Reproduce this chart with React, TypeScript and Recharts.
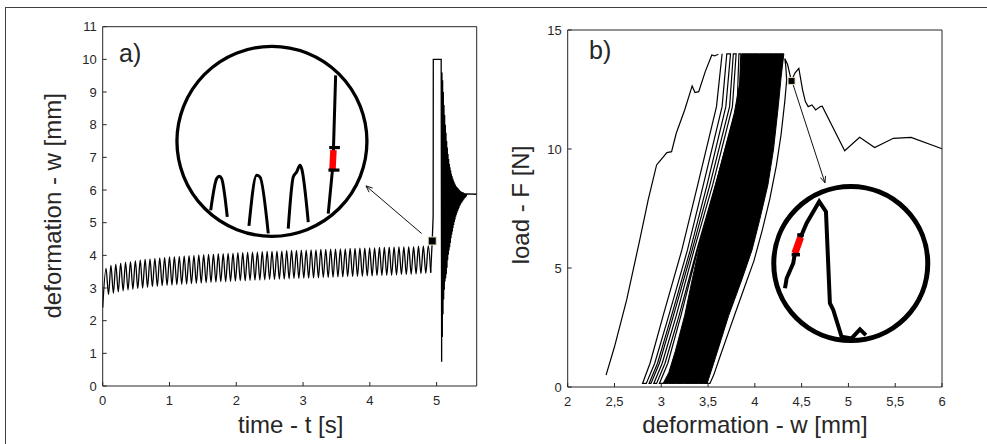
import React from 'react';
import { ComposedChart, Line, Area, XAxis, YAxis, ReferenceDot, ReferenceLine } from 'recharts';

const FONT = '"Liberation Sans", Arial, Helvetica, sans-serif';
const AX = '#262626';

// ---------- panel a) : deformation vs time ----------
const timeTicks = [0, 1, 2, 3, 4, 5];
const deformTicksA = [0, 1, 2, 3, 4, 5, 6, 7, 8, 9, 10, 11];
const startTime = 0;
const startDeform = 2.4;
const peakTimes = [0.050, 0.123, 0.196, 0.269, 0.342, 0.416, 0.489, 0.562, 0.635, 0.708, 0.781, 0.854, 0.927, 1.000, 1.073, 1.147, 1.220, 1.293, 1.366, 1.439, 1.512, 1.585, 1.658, 1.731, 1.804, 1.878, 1.951, 2.024, 2.097, 2.170, 2.243, 2.316, 2.389, 2.462, 2.535, 2.609, 2.682, 2.755, 2.828, 2.901, 2.974, 3.047, 3.120, 3.193, 3.266, 3.340, 3.413, 3.486, 3.559, 3.632, 3.705, 3.778, 3.851, 3.924, 3.997, 4.071, 4.144, 4.217, 4.290, 4.363, 4.436, 4.509, 4.582, 4.655, 4.728, 4.801, 4.875];
const peakDeform = [3.60, 3.70, 3.73, 3.76, 3.79, 3.81, 3.84, 3.86, 3.88, 3.89, 3.91, 3.92, 3.94, 3.95, 3.96, 3.97, 3.98, 3.99, 4.00, 4.01, 4.02, 4.03, 4.04, 4.05, 4.05, 4.06, 4.07, 4.08, 4.08, 4.09, 4.10, 4.10, 4.11, 4.12, 4.12, 4.13, 4.13, 4.14, 4.15, 4.15, 4.16, 4.16, 4.17, 4.17, 4.18, 4.18, 4.19, 4.19, 4.20, 4.20, 4.21, 4.21, 4.22, 4.22, 4.23, 4.23, 4.24, 4.24, 4.25, 4.25, 4.26, 4.26, 4.27, 4.27, 4.28, 4.29, 4.30];
const troughTimes = [0.087, 0.160, 0.233, 0.306, 0.379, 0.452, 0.525, 0.598, 0.671, 0.744, 0.818, 0.891, 0.964, 1.037, 1.110, 1.183, 1.256, 1.329, 1.402, 1.475, 1.549, 1.622, 1.695, 1.768, 1.841, 1.914, 1.987, 2.060, 2.133, 2.206, 2.280, 2.353, 2.426, 2.499, 2.572, 2.645, 2.718, 2.791, 2.864, 2.937, 3.011, 3.084, 3.157, 3.230, 3.303, 3.376, 3.449, 3.522, 3.595, 3.668, 3.742, 3.815, 3.888, 3.961, 4.034, 4.107, 4.180, 4.253, 4.326, 4.399, 4.473, 4.546, 4.619, 4.692, 4.765, 4.838, 4.911];
const troughDeform = [2.80, 2.84, 2.88, 2.91, 2.94, 2.96, 2.98, 3.00, 3.02, 3.04, 3.05, 3.07, 3.08, 3.09, 3.10, 3.11, 3.12, 3.13, 3.14, 3.15, 3.16, 3.17, 3.18, 3.19, 3.19, 3.20, 3.21, 3.22, 3.22, 3.23, 3.24, 3.24, 3.25, 3.26, 3.26, 3.27, 3.27, 3.28, 3.29, 3.29, 3.30, 3.30, 3.31, 3.31, 3.32, 3.32, 3.33, 3.34, 3.34, 3.35, 3.35, 3.36, 3.36, 3.37, 3.37, 3.38, 3.38, 3.39, 3.39, 3.40, 3.41, 3.41, 3.42, 3.43, 3.44, 3.45, 3.47];
const failureTimes = [4.911, 4.934, 4.948, 4.950, 5.068, 5.075, 5.080, 5.085, 5.090, 5.095, 5.100, 5.105, 5.110, 5.115, 5.120, 5.125, 5.130, 5.135, 5.140, 5.145, 5.150, 5.155, 5.160, 5.165, 5.170, 5.175, 5.180, 5.185, 5.190, 5.195, 5.200, 5.205, 5.210, 5.215, 5.220, 5.225, 5.230, 5.235, 5.240, 5.245, 5.250, 5.255, 5.260, 5.265, 5.270, 5.275, 5.280, 5.285, 5.290, 5.295, 5.300, 5.305, 5.310, 5.315, 5.320, 5.325, 5.330, 5.335, 5.340, 5.345, 5.350, 5.355, 5.360, 5.365, 5.370, 5.375, 5.380, 5.385, 5.390, 5.395, 5.400, 5.405, 5.410, 5.415, 5.420, 5.425, 5.430, 5.435, 5.440, 5.445, 5.450, 5.600];
const failureDeform = [3.47, 4.44, 5.20, 10.00, 10.00, 0.74, 9.60, 1.50, 9.36, 2.20, 9.00, 2.65, 8.60, 2.95, 8.30, 3.20, 8.00, 3.30, 7.75, 3.42, 7.50, 3.62, 7.30, 3.85, 7.10, 4.02, 6.95, 4.15, 6.80, 4.25, 6.70, 4.38, 6.60, 4.52, 6.50, 4.63, 6.43, 4.73, 6.36, 4.84, 6.30, 4.93, 6.25, 5.02, 6.20, 5.10, 6.16, 5.18, 6.12, 5.24, 6.09, 5.30, 6.07, 5.36, 6.05, 5.41, 6.02, 5.46, 6.00, 5.51, 5.98, 5.55, 5.96, 5.59, 5.95, 5.62, 5.94, 5.65, 5.93, 5.68, 5.92, 5.71, 5.91, 5.74, 5.90, 5.76, 5.90, 5.79, 5.89, 5.81, 5.88, 5.87];

// inset a) (magnifier content, drawn in the panel's own units)
const insetCircleA = { t: 2.534, w: 7.49 };
const insetArchesA = [
  { t: [1.617, 1.707, 1.746, 1.781, 1.865], w: [5.38, 6.35, 6.42, 6.35, 5.18] },
  { t: [2.190, 2.305, 2.355, 2.479], w: [4.90, 6.45, 6.40, 4.67] },
  { t: [2.778, 2.853, 2.904, 2.954, 2.979, 3.078], w: [4.82, 6.40, 6.55, 6.76, 6.66, 5.02] },
  { t: [3.377, 3.440, 3.455, 3.488], w: [5.28, 6.61, 7.25, 9.51] },
];
const redSegA = { t: [3.440, 3.455], w: [6.61, 7.22] };
const capsA = [
  { t: [3.392, 3.552], w: [7.30, 7.30] },
  { t: [3.380, 3.545], w: [6.61, 6.61] },
];
const markerA = { t: 4.934, w: 4.44 };
const arrowA = [{ x: 4.775, y: 4.67 }, { x: 3.942, y: 6.125 }];

// ---------- panel b) : load vs deformation ----------
const deformTicksB = [2, 2.5, 3, 3.5, 4, 4.5, 5, 5.5, 6];
const loadTicks = [0, 5, 10, 15];
const firstLoadW = [2.41, 2.50, 2.63, 2.77, 2.86, 2.95, 2.98, 3.06, 3.11, 3.16, 3.25, 3.33, 3.36, 3.40, 3.47, 3.54, 3.57, 3.61];
const firstLoadF = [0.50, 1.69, 3.66, 6.18, 7.86, 9.33, 9.47, 9.85, 9.89, 10.66, 11.64, 12.65, 12.37, 12.41, 13.25, 13.95, 13.91, 13.98];
const earlyCycleW = [
  3.65, 3.59, 3.39, 3.22, 3.02, 2.88, 2.80,
  2.84, 2.93, 3.08, 3.28, 3.45, 3.65, 3.70,
  3.74, 3.69, 3.49, 3.31, 3.11, 2.96, 2.87,
  2.89, 2.98, 3.13, 3.33, 3.52, 3.73, 3.77,
  3.80, 3.76, 3.55, 3.35, 3.16, 3.01, 2.92,
  2.95, 3.04, 3.19, 3.38, 3.58, 3.81, 3.83,
  3.85, 3.83, 3.60, 3.39, 3.21, 3.07, 2.98,
  3.02];
const earlyCycleF = [
  14, 11.78, 8.5, 5.76, 3, 1, 0.15,
  0.15, 1, 3, 5.76, 8.5, 11.78, 14,
  14, 11.78, 8.5, 5.76, 3, 1, 0.15,
  0.15, 1, 3, 5.76, 8.5, 11.78, 14,
  14, 11.78, 8.5, 5.76, 3, 1, 0.15,
  0.15, 1, 3, 5.76, 8.5, 11.78, 14,
  14, 11.78, 8.5, 5.76, 3, 1, 0.15,
  0.15];
const bandW = [3.02, 3.08, 3.15, 3.25, 3.33, 3.40, 3.48, 3.49, 3.56, 3.58, 3.64, 3.68, 3.72, 3.78, 3.84, 3.86, 3.97, 4.05, 4.14, 4.20, 4.25, 4.28, 4.31];
const bandLow = [0.15, 0.15, 0.15, 0.15, 0.15, 0.15, 0.15, 0.15, 1.0, 1.25, 2.0, 2.5, 3.0, 3.64, 4.29, 4.5, 5.76, 7.0, 8.5, 10.0, 11.78, 13.0, 14.0];
const bandHigh = [0.15, 0.6, 1.5, 3.0, 4.5, 5.76, 7.0, 7.15, 8.2, 8.5, 9.4, 10.0, 10.6, 11.5, 12.8, 14, 14, 14, 14, 14, 14, 14, 14];
const finalW = [3.47, 3.52, 3.56, 3.63, 3.71, 3.79, 3.89, 3.99, 4.08, 4.16, 4.23, 4.28, 4.32, 4.34, 4.33, 4.32, 4.35, 4.39, 4.43, 4.47, 4.51, 4.54, 4.57, 4.61, 4.65, 4.70, 4.72, 4.96, 5.12, 5.28, 5.48, 5.67, 6.00];
const finalF = [0.15, 0.15, 0.5, 1.3, 2.2, 3.1, 4.2, 5.3, 6.6, 7.9, 9.3, 10.6, 12.0, 12.9, 13.5, 13.8, 13.55, 12.86, 13.2, 13.39, 12.48, 11.99, 11.78, 11.85, 11.64, 11.78, 11.8, 9.93, 10.49, 10.06, 10.45, 10.49, 10.01];

// inset b)
const insetCircleB = { w: 5.025, F: 5.19 };
const insetW = [4.322, 4.340, 4.410, 4.428, 4.489, 4.553, 4.688, 4.760, 4.802, 4.838, 4.927, 5.034, 5.123, 5.187];
const insetF = [4.15, 4.57, 5.20, 5.62, 6.29, 6.88, 7.79, 7.37, 3.52, 3.24, 2.11, 2.04, 2.42, 2.18];
const redSegB = { w: [4.428, 4.489], F: [5.62, 6.29] };
const capsB = [
  { w: [4.453, 4.525], F: [6.39, 6.39] },
  { w: [4.393, 4.482], F: [5.56, 5.56] },
];
const markerB = { w: 4.392, F: 12.86 };
const arrowB = [{ x: 4.41, y: 12.69 }, { x: 4.749, y: 8.58 }];

// ---------- helpers ----------
const zip = (xs: number[], ys: number[], xk: string, yk: string) =>
  xs.map((x, i) => ({ [xk]: x, [yk]: ys[i] }));

const cyclicRows: any[] = [{ t: startTime, w: startDeform }];
peakTimes.forEach((t, i) => {
  cyclicRows.push({ t, w: peakDeform[i] });
  cyclicRows.push({ t: troughTimes[i], w: troughDeform[i] });
});
const failureRows = zip(failureTimes, failureDeform, 't', 'w');
const bandRows = bandW.map((w, i) => ({ w, band: [bandLow[i], bandHigh[i]] }));

const arrowShape = (props: any) => {
  const { x1, y1, x2, y2 } = props;
  const ang = Math.atan2(y2 - y1, x2 - x1);
  const L = 7;
  const a1 = ang + Math.PI - 0.4;
  const a2 = ang + Math.PI + 0.4;
  return (
    <g>
      <line x1={x1} y1={y1} x2={x2} y2={y2} stroke="#111" strokeWidth={1} />
      <polyline
        points={`${x2 + L * Math.cos(a1)},${y2 + L * Math.sin(a1)} ${x2},${y2} ${x2 + L * Math.cos(a2)},${y2 + L * Math.sin(a2)}`}
        fill="none"
        stroke="#111"
        strokeWidth={1}
      />
    </g>
  );
};

const squareShape = (size: number) => (props: any) => {
  const { cx, cy } = props;
  return <rect x={cx - size / 2} y={cy - size / 2} width={size} height={size} fill="#000" stroke="#e6dfbd" strokeWidth={1} />;
};

const tickStyle = { fontSize: 13, fill: AX, fontFamily: FONT };
const lineCommon = { dot: false, activeDot: false, isAnimationActive: false, legendType: 'none' as const };

export default function App() {
  return (
    <div style={{ position: 'absolute', left: 0, top: 0, width: 987, height: 444, background: '#fff', overflow: 'hidden' }}>
      <div style={{ position: 'absolute', left: 5, top: 7, width: 982, height: 437, borderTop: '1px solid #404040', borderLeft: '1px solid #404040', boxSizing: 'border-box' }} />

      {/* panel a */}
      <div style={{ position: 'absolute', left: 0, top: 0 }}>
        <ComposedChart width={500} height={444} margin={{ top: 25.7, right: 22.3, bottom: 38, left: 0 }}>
          <XAxis xAxisId="b" dataKey="t" type="number" domain={[0, 5.6]} ticks={timeTicks} interval={0} height={20}
            tickSize={-4} tickMargin={14} tick={tickStyle} stroke={AX} tickLine={{ stroke: AX }} />
          <XAxis xAxisId="top" orientation="top" dataKey="t" type="number" domain={[0, 5.6]} ticks={timeTicks} interval={0} height={1}
            tickSize={-4} tick={false} stroke={AX} tickLine={{ stroke: AX }} />
          <YAxis yAxisId="l" type="number" domain={[0, 11]} ticks={deformTicksA} interval={0} width={102.7}
            tickSize={-4} tickMargin={10} tick={tickStyle} stroke={AX} tickLine={{ stroke: AX }} />
          <YAxis yAxisId="r" orientation="right" type="number" domain={[0, 11]} ticks={deformTicksA} interval={0} width={1}
            tickSize={-4} tick={false} stroke={AX} tickLine={{ stroke: AX }} />

          <Line {...lineCommon} xAxisId="b" yAxisId="l" data={cyclicRows} dataKey="w" type="monotone" stroke="#000" strokeWidth={1.3} />
          <Line {...lineCommon} xAxisId="b" yAxisId="l" data={failureRows} dataKey="w" type="linear" stroke="#000" strokeWidth={1.3} />

          {insetArchesA.map((a, i) => (
            <Line key={'arch' + i} {...lineCommon} xAxisId="b" yAxisId="l" data={zip(a.t, a.w, 't', 'w')} dataKey="w"
              type={i < 3 ? 'monotone' : 'linear'} stroke="#000" strokeWidth={3} />
          ))}
          <Line {...lineCommon} xAxisId="b" yAxisId="l" data={zip(redSegA.t, redSegA.w, 't', 'w')} dataKey="w" type="linear" stroke="#ff0000" strokeWidth={6.5} />
          {capsA.map((c, i) => (
            <Line key={'capA' + i} {...lineCommon} xAxisId="b" yAxisId="l" data={zip(c.t, c.w, 't', 'w')} dataKey="w" type="linear" stroke="#000" strokeWidth={3.2} />
          ))}

          <ReferenceDot xAxisId="b" yAxisId="l" x={insetCircleA.t} y={insetCircleA.w} r={95} fill="none" stroke="#000" strokeWidth={3.3} />
          <ReferenceLine xAxisId="b" yAxisId="l" segment={arrowA} shape={arrowShape} />
          <ReferenceDot xAxisId="b" yAxisId="l" x={markerA.t} y={markerA.w} shape={squareShape(8)} />
        </ComposedChart>
      </div>

      {/* panel b */}
      <div style={{ position: 'absolute', left: 500, top: 0 }}>
        <ComposedChart width={487} height={444} margin={{ top: 29, right: 44, bottom: 37, left: 0 }}>
          <XAxis xAxisId="b" dataKey="w" type="number" domain={[2, 6]} ticks={deformTicksB} interval={0} height={20}
            tickSize={-4} tickMargin={14} tick={tickStyle} stroke={AX} tickLine={{ stroke: AX }}
            tickFormatter={(v: number) => String(v).replace('.', ',')} />
          <XAxis xAxisId="top" orientation="top" dataKey="w" type="number" domain={[2, 6]} ticks={deformTicksB} interval={0} height={1}
            tickSize={-4} tick={false} stroke={AX} tickLine={{ stroke: AX }} />
          <YAxis yAxisId="l" type="number" domain={[0, 15]} ticks={loadTicks} interval={0} width={67.7}
            tickSize={-4} tickMargin={10} tick={tickStyle} stroke={AX} tickLine={{ stroke: AX }} />
          <YAxis yAxisId="r" orientation="right" type="number" domain={[0, 15]} ticks={loadTicks} interval={0} width={1}
            tickSize={-4} tick={false} stroke={AX} tickLine={{ stroke: AX }} />

          <Area xAxisId="b" yAxisId="l" data={bandRows} dataKey="band" type="linear" fill="#000" fillOpacity={1}
            stroke="#000" strokeWidth={1} dot={false} activeDot={false} isAnimationActive={false} />
          <Line {...lineCommon} xAxisId="b" yAxisId="l" data={zip(firstLoadW, firstLoadF, 'w', 'F')} dataKey="F" type="linear" stroke="#000" strokeWidth={1.2} />
          <Line {...lineCommon} xAxisId="b" yAxisId="l" data={zip(earlyCycleW, earlyCycleF, 'w', 'F')} dataKey="F" type="linear" stroke="#000" strokeWidth={1.2} />
          <Line {...lineCommon} xAxisId="b" yAxisId="l" data={zip(finalW, finalF, 'w', 'F')} dataKey="F" type="linear" stroke="#000" strokeWidth={1.2} />

          <Line {...lineCommon} xAxisId="b" yAxisId="l" data={zip(insetW, insetF, 'w', 'F')} dataKey="F" type="linear" stroke="#000" strokeWidth={4} />
          <Line {...lineCommon} xAxisId="b" yAxisId="l" data={zip(redSegB.w, redSegB.F, 'w', 'F')} dataKey="F" type="linear" stroke="#ff0000" strokeWidth={7} />
          {capsB.map((c, i) => (
            <Line key={'capB' + i} {...lineCommon} xAxisId="b" yAxisId="l" data={zip(c.w, c.F, 'w', 'F')} dataKey="F" type="linear" stroke="#000" strokeWidth={3.5} />
          ))}

          <ReferenceDot xAxisId="b" yAxisId="l" x={insetCircleB.w} y={insetCircleB.F} r={77} fill="none" stroke="#000" strokeWidth={5} />
          <ReferenceLine xAxisId="b" yAxisId="l" segment={arrowB} shape={arrowShape} />
          <ReferenceDot xAxisId="b" yAxisId="l" x={markerB.w} y={markerB.F} shape={squareShape(7)} />
        </ComposedChart>
      </div>

      <svg width={987} height={444} style={{ position: 'absolute', left: 0, top: 0, pointerEvents: 'none' }} fontFamily={FONT} fill={AX}>
        <text x={119} y={62} fontSize={25}>a)</text>
        <text x={589} y={59} fontSize={25}>b)</text>
        <text x={290.7} y={433} fontSize={24} textAnchor="middle">time - t [s]</text>
        <text x={755} y={433} fontSize={24} textAnchor="middle">deformation - w [mm]</text>
        <text transform="translate(61,205.8) rotate(-90)" fontSize={24} textAnchor="middle">deformation - w [mm]</text>
        <text transform="translate(528.5,205) rotate(-90)" fontSize={24} textAnchor="middle">load - F [N]</text>
      </svg>
    </div>
  );
}
